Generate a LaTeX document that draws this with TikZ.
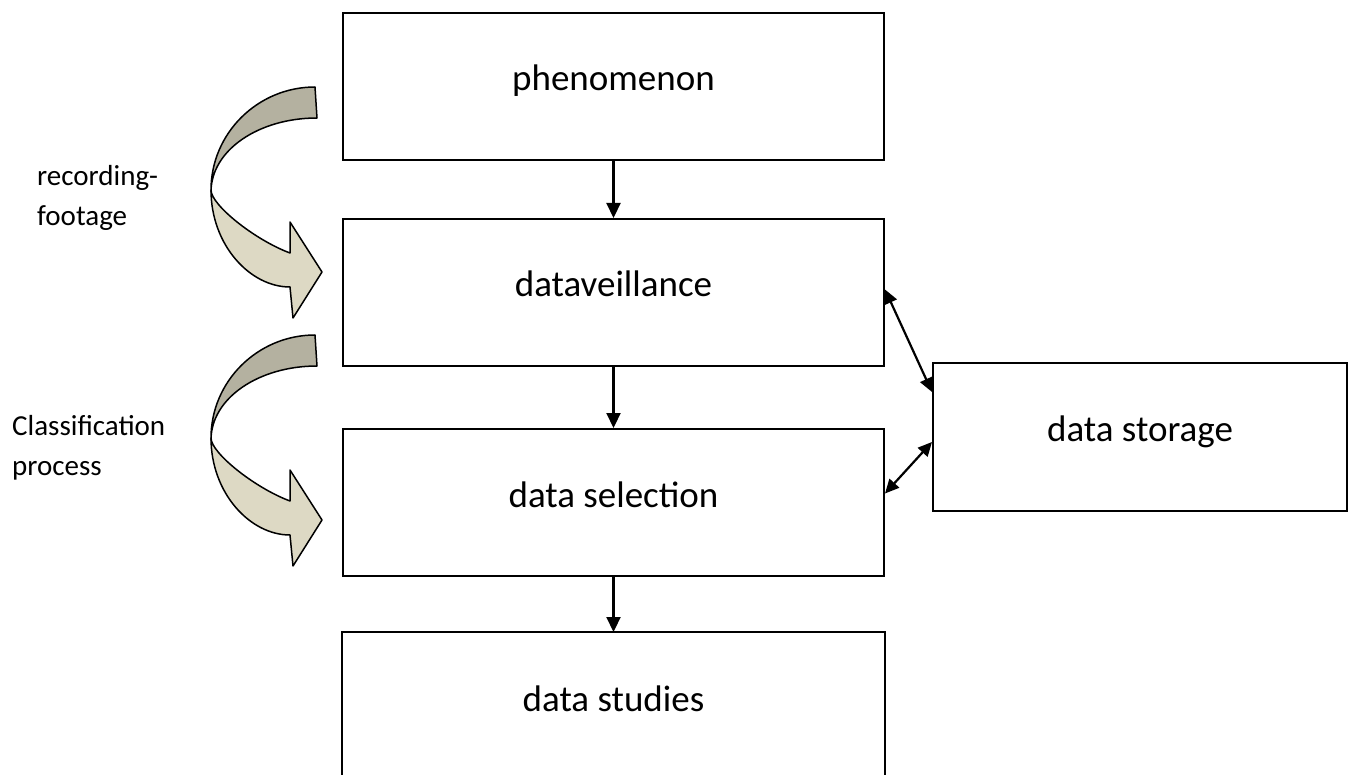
\documentclass[tikz,border=0pt]{standalone}
\usepackage{fontspec}
\setmainfont{Carlito}
\usetikzlibrary{arrows.meta,positioning}
\definecolor{ribbondark}{RGB}{180,177,160}
\definecolor{ribbonlight}{RGB}{221,217,196}
\tikzset{
	node distance=57pt,
	box/.style = {draw, rectangle, line width=2pt, minimum width=541pt, minimum height=147pt,
		text height=26pt, text depth=17pt, font=\fontsize{37}{44}\selectfont},
	openbox/.style = {box, draw=none},
	note/.style = {align=left, anchor=west, inner sep=0pt, font=\fontsize{29}{40}\selectfont},
	flow/.style = {line width=2.2pt, -{Triangle[length=15pt,width=14pt]}},
	link/.style = {line width=2.2pt, {Triangle[length=14pt,width=13pt]}-{Triangle[length=14pt,width=13pt]}},
	ribbonback/.style = {draw, line width=1.5pt, fill=ribbondark, line join=round},
	ribbonfront/.style = {draw, line width=1.5pt, fill=ribbonlight, line join=round},
	ribbon/.pic = {
		\draw[ribbonback] (315,87) .. controls (258,87) and (211,133) .. (211,190)
			-- (211,192) .. controls (211,150) and (259,118) .. (317,118) -- cycle;
		\draw[ribbonfront] (211,190) .. controls (211,245) and (250,287) .. (290,287)
			-- (293,318) -- (322,272) -- (290,222) -- (290,253)
			.. controls (255,240) and (211,205) .. (211,190) -- cycle;
	}
}
\begin{document}
\begin{tikzpicture}[x=1pt, y=-1pt]
	\clip (0,0) rectangle (1349,775);
	\node[box] (phen) at (613.5,86.5) {phenomenon};
	\node[box, below=of phen] (dv) {dataveillance};
	\node[box, below=61pt of dv] (sel) {data selection};
	\node[openbox, below=55pt of sel] (stud) {data studies};
	\draw[line width=2pt] (stud.south west) -- (stud.north west) -- (stud.north east) -- (stud.south east);
	\node[box, minimum width=414pt, minimum height=148pt] (store) at (1140,437) {data storage};
	\draw[flow] (phen) -- (dv);
	\draw[flow] (dv) -- (sel);
	\draw[flow] (sel) -- (stud);
	\draw[link] ([yshift=3pt]dv.east) -- ([yshift=45pt]store.west);
	\draw[link] ([yshift=-5pt]store.west) -- ([yshift=9pt]sel.east);
	% curved arrows on the left
	\pic at (0,0) {ribbon};
	\pic at (0,248) {ribbon};
	\node[note] (rec) at (37,198) {recording-\\footage};
	\node[note] (cls) at (12,448) {Classification\\process};
\end{tikzpicture}
\end{document}
